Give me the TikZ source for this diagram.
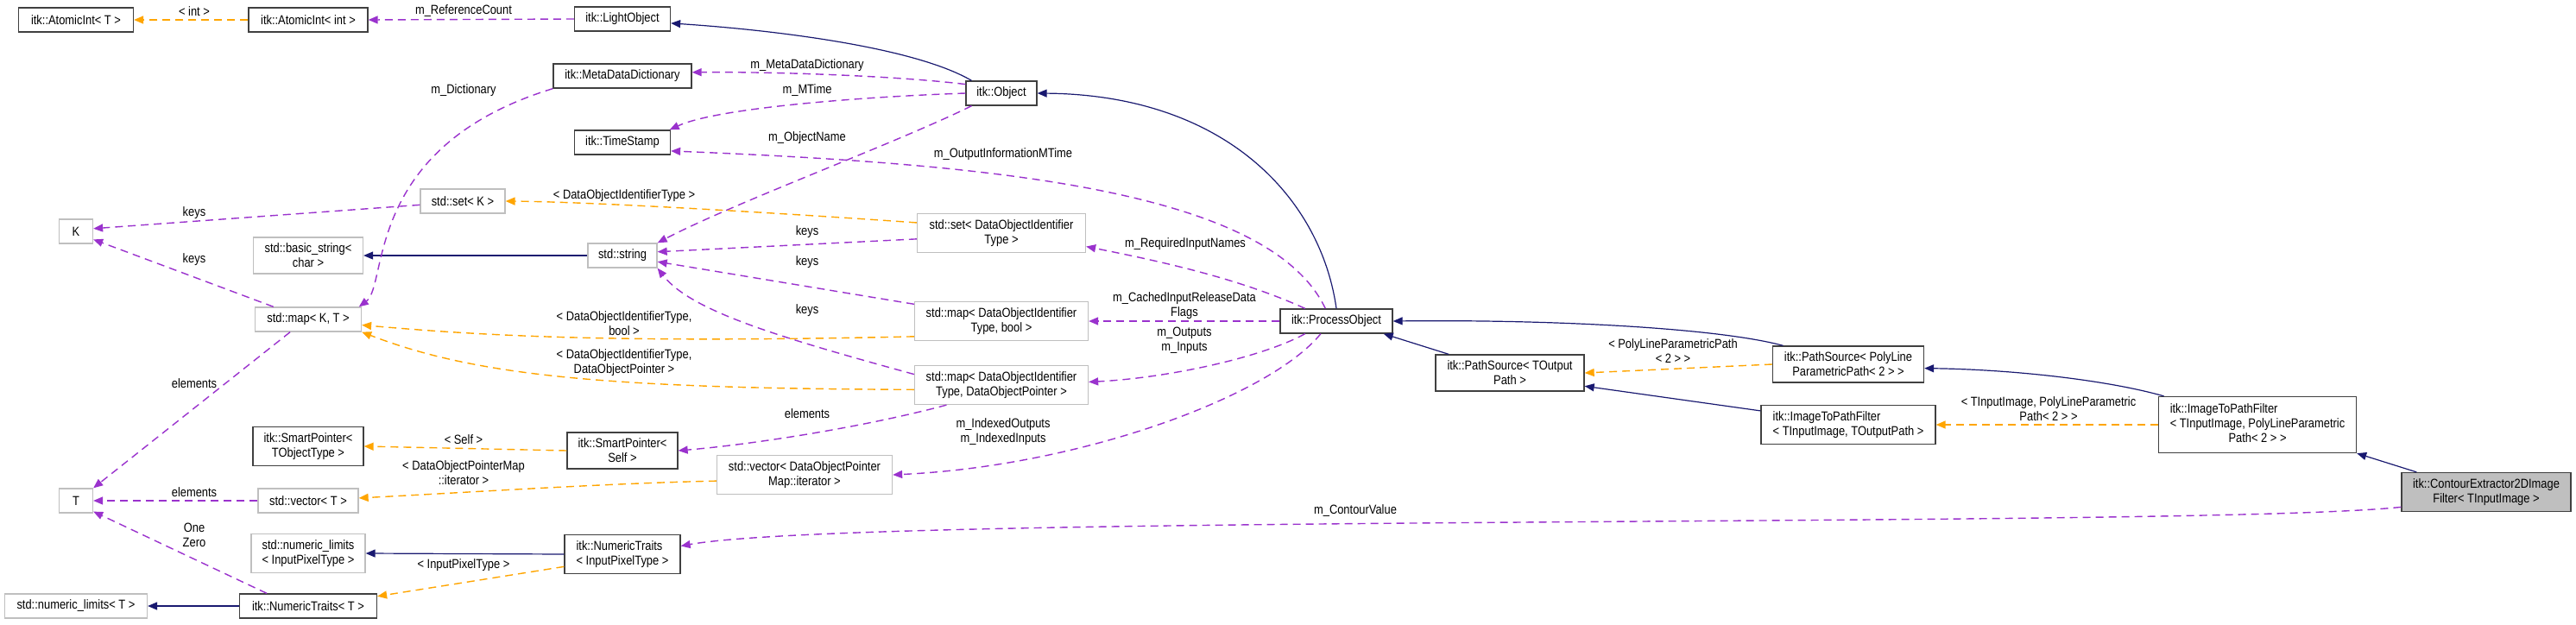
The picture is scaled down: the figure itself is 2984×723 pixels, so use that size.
\documentclass[tikz,border=0pt]{standalone}
\usepackage{fontspec}
\setmainfont{Liberation Sans}[FakeStretch=0.86]
\usetikzlibrary{arrows.meta}
\definecolor{inhblue}{HTML}{191970}
\definecolor{usepurple}{HTML}{9A32CD}
\definecolor{tmplorange}{HTML}{FFA500}
\definecolor{boxgray}{HTML}{BFBFBF}
\definecolor{edgegray}{HTML}{404040}

\begin{document}
\begin{tikzpicture}[
  x=1pt,y=-1pt,
  cls/.style={draw=edgegray,fill=white,line width=1.3pt,inner xsep=8pt,inner ysep=7pt,minimum height=28pt,align=center,font=\fontsize{15}{17}\selectfont},
  ext/.style={cls,draw=boxgray},
  focus/.style={cls,fill=boxgray},
  lbl/.style={inner sep=0pt,align=center,font=\fontsize{15}{17}\selectfont},
  inh/.style={-{Triangle[length=11pt,width=9pt]},inhblue,line width=1.2pt},
  usage/.style={-{Triangle[length=11pt,width=9pt]},usepurple,line width=1.4pt,dash pattern=on 9pt off 6pt},
  tmpl/.style={-{Triangle[length=11pt,width=9pt]},tmplorange,line width=1.4pt,dash pattern=on 9pt off 6pt}]
\useasboundingbox (0,0) rectangle (2984,723);
% classes
\node[cls,minimum width=133] (aiT) at (88,23) {itk::AtomicInt< T >};
\node[cls,minimum width=138] (aiInt) at (357,23) {itk::AtomicInt< int >};
\node[cls,minimum width=111] (light) at (721,22) {itk::LightObject};
\node[cls,minimum width=160] (mdd) at (721,88) {itk::MetaDataDictionary};
\node[cls,minimum width=111] (ts) at (721,165) {itk::TimeStamp};
\node[cls,minimum width=82] (obj) at (1160,108) {itk::Object};
\node[ext,minimum width=39] (K) at (88,268) {K};
\node[ext,minimum width=98] (setK) at (536,233) {std::set< K >};
\node[ext,minimum width=127] (bstr) at (357,296) {std::basic\_string<\\char >};
\node[ext,minimum width=80] (str) at (721,296) {std::string};
\node[ext,minimum width=195] (setD) at (1160,270) {std::set< DataObjectIdentifier\\Type >};
\node[ext,minimum width=123] (mapKT) at (357,370) {std::map< K, T >};
\node[ext,minimum width=201] (mapDb) at (1160,372) {std::map< DataObjectIdentifier\\Type, bool >};
\node[ext,minimum width=201] (mapDP) at (1160,446) {std::map< DataObjectIdentifier\\Type, DataObjectPointer >};
\node[cls,minimum width=130] (proc) at (1548,372) {itk::ProcessObject};
\node[ext,minimum width=39] (T) at (88,580) {T};
\node[ext,minimum width=116] (vecT) at (357,580) {std::vector< T >};
\node[cls,minimum width=128] (spT) at (357,517) {itk::SmartPointer<\\TObjectType >};
\node[cls,minimum width=128] (spS) at (721,522) {itk::SmartPointer<\\Self >};
\node[ext,minimum width=203] (vecIt) at (932,550) {std::vector< DataObjectPointer\\Map::iterator >};
\node[ext,minimum width=132] (nlIP) at (357,641) {std::numeric\_limits\\< InputPixelType >};
\node[cls,minimum width=134,align=left] (ntIP) at (721,642) {itk::NumericTraits\\< InputPixelType >};
\node[ext,minimum width=165] (nlT) at (88,702) {std::numeric\_limits< T >};
\node[cls,minimum width=159] (ntT) at (357,702) {itk::NumericTraits< T >};
\node[cls,minimum width=172] (psT) at (1749,432) {itk::PathSource< TOutput\\Path >};
\node[cls,minimum width=175] (psP) at (2141,422) {itk::PathSource< PolyLine\\ParametricPath< 2 > >};
\node[cls,minimum width=202,align=left] (itpT) at (2141,492) {itk::ImageToPathFilter\\< TInputImage, TOutputPath >};
\node[cls,minimum width=229] (itpP) at (2615,492) {\begin{tabular}{@{}l@{}}itk::ImageToPathFilter\\< TInputImage, PolyLineParametric\\\multicolumn{1}{@{}c@{}}{Path< 2 > >}\end{tabular}};
\node[focus,minimum width=196] (cont) at (2880,570) {itk::ContourExtractor2DImage\\Filter< TInputImage >};
% inheritance
\draw[inh] (obj.157) .. controls (1060,55) and (900,35) .. (light.-5);
\draw[inh] (proc.north) .. controls (1530,230) and (1420,110) .. (obj.east);
\draw[inh] (psT.163) -- (proc.-15);
\draw[inh] (psP.164) .. controls (1990,380) and (1800,370) .. (proc.east);
\draw[inh] (itpT.171) -- (psT.-10);
\draw[inh] (itpP.163) .. controls (2440,440) and (2330,428) .. (psP.-3);
\draw[inh] (cont.164) -- (itpP.south east);
\draw[inh] (ntIP.west) -- (nlIP.east);
\draw[inh] (ntT.west) -- (nlT.east);
\draw[inh] (str.west) -- (bstr.east);
% members
\draw[usage] (light.west) -- (aiInt.east);
\draw[usage] (obj.166) .. controls (1040,88) and (900,83) .. (mdd.3);
\draw[usage] (obj.west) .. controls (1000,112) and (830,125) .. (ts.15);
\draw[usage] (obj.203) .. controls (1040,165) and (850,235) .. (str.north east);
\draw[usage] (proc.131) .. controls (1470,220) and (1150,190) .. (ts.-10);
\draw[usage] (proc.158) .. controls (1430,320) and (1330,300) .. (setD.-9);
\draw[usage] (proc.west) -- (mapDb.east);
\draw[usage] (proc.202) .. controls (1460,415) and (1350,438) .. (mapDP.2);
\draw[usage] (proc.219) .. controls (1470,460) and (1250,540) .. (vecIt.east);
\draw[usage] (cont.190) .. controls (2550,612) and (1000,595) .. (ntIP.8);
\draw[usage] (ntT.163) -- (T.-32);
\draw[usage] (vecT.west) -- (T.east);
\draw[usage] (mapKT.215) -- (T.north east);
\draw[usage] (mapKT.160) -- (K.-25);
\draw[usage] (setK.185) -- (K.9);
\draw[usage] (mdd.south west) .. controls (420,170) and (450,330) .. (mapKT.14);
\draw[usage] (setD.184) -- (str.6);
\draw[usage] (mapDb.169) -- (str.-10);
\draw[usage] (mapDP.173) .. controls (900,390) and (800,360) .. (str.south east);
\draw[usage] (mapDP.200) .. controls (1000,495) and (870,515) .. (spS.east);
% template instances
\draw[tmpl] (aiInt.west) -- (aiT.east);
\draw[tmpl] (setD.173) .. controls (950,250) and (700,234) .. (setK.east);
\draw[tmpl] (mapDb.190) .. controls (700,398) and (550,388) .. (mapKT.-6);
\draw[tmpl] (mapDP.183) .. controls (700,450) and (550,435) .. (mapKT.south east);
\draw[tmpl] (spS.west) -- (spT.east);
\draw[tmpl] (vecIt.184) .. controls (700,560) and (550,570) .. (vecT.3);
\draw[tmpl] (ntIP.192) -- (ntT.8);
\draw[tmpl] (psP.west) -- (psT.east);
\draw[tmpl] (itpP.west) -- (itpT.east);
% edge labels
\node[lbl] (lInt) at (225,13) {< int >};
\node[lbl] (lRef) at (537,13) {m\_ReferenceCount};
\node[lbl] (lMdd) at (935,76) {m\_MetaDataDictionary};
\node[lbl] (lMTime) at (935,105) {m\_MTime};
\node[lbl] (lDict) at (537,105) {m\_Dictionary};
\node[lbl] (lName) at (935,160) {m\_ObjectName};
\node[lbl] (lOut) at (1162,179) {m\_OutputInformationMTime};
\node[lbl] (lDoi) at (723,227) {< DataObjectIdentifierType >};
\node[lbl] (lKeysA) at (225,247) {keys};
\node[lbl] (lKeysB) at (935,269) {keys};
\node[lbl] (lReq) at (1373,283) {m\_RequiredInputNames};
\node[lbl] (lKeysC) at (225,301) {keys};
\node[lbl] (lKeysD) at (935,304) {keys};
\node[lbl] (lCache) at (1372,354) {m\_CachedInputReleaseData\\Flags};
\node[lbl] (lKeysE) at (935,360) {keys};
\node[lbl] (lDoiB) at (723,375) {< DataObjectIdentifierType,\\bool >};
\node[lbl] (lIO) at (1372,394) {m\_Outputs\\m\_Inputs};
\node[lbl] (lDoiP) at (723,420) {< DataObjectIdentifierType,\\DataObjectPointer >};
\node[lbl] (lElemA) at (225,444) {elements};
\node[lbl] (lElemB) at (935,479) {elements};
\node[lbl] (lIdx) at (1162,500) {m\_IndexedOutputs\\m\_IndexedInputs};
\node[lbl] (lSelf) at (537,509) {< Self >};
\node[lbl] (lIter) at (537,548) {< DataObjectPointerMap\\::iterator >};
\node[lbl] (lElemC) at (225,570) {elements};
\node[lbl] (lCont) at (1570,592) {m\_ContourValue};
\node[lbl] (lOne) at (225,620) {One\\Zero};
\node[lbl] (lPix) at (537,655) {< InputPixelType >};
\node[lbl] (lPoly) at (1938,407) {< PolyLineParametricPath\\< 2 > >};
\node[lbl] (lImg) at (2373,474) {< TInputImage, PolyLineParametric\\Path< 2 > >};
\end{tikzpicture}
\end{document}
